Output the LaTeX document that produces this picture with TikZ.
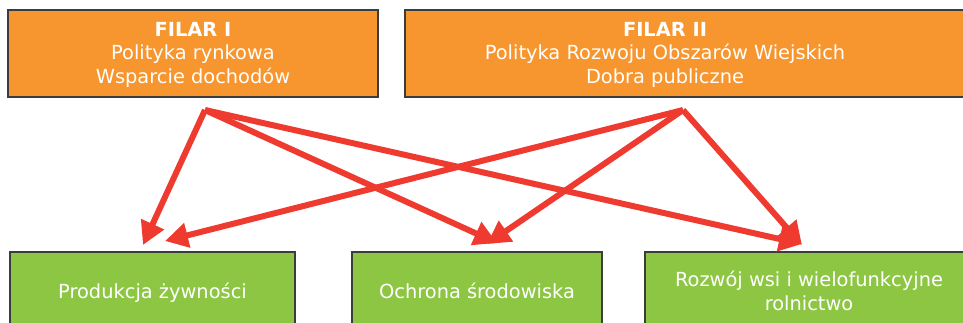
\documentclass[tikz,border=0pt]{standalone}
\usepackage{fontspec}
\setmainfont{DejaVu Sans}
\usetikzlibrary{arrows.meta}
\definecolor{pillar}{HTML}{F7962E}
\definecolor{goal}{HTML}{8DC643}
\definecolor{arrowred}{HTML}{EE3A2F}
\definecolor{edge}{HTML}{3C3C3C}
\tikzset{
  boxshape/.style={draw=edge, line width=1.6pt},
  pillarbox/.style={boxshape, fill=pillar},
  goalbox/.style={boxshape, fill=goal},
  label/.style={text=white, align=center, font=\fontsize{19.4}{23.5}\selectfont, inner sep=0pt},
  link/.style={draw=arrowred, line width=6pt, line join=round, -{Triangle[length=23pt,width=24pt]}}
}
\begin{document}
\begin{tikzpicture}[x=1pt,y=-1pt]
\useasboundingbox (0,0) rectangle (963,322);
% pillar boxes
\draw[pillarbox] (8,10) rectangle (378,97);
\draw[pillarbox] (405,10) rectangle (980,97);
\node[label] (f1) at (193,54.5) {\textbf{FILAR I}\\Polityka rynkowa\\Wsparcie dochodów};
\node[label] (f2) at (665,54.5) {\textbf{FILAR II}\\Polityka Rozwoju Obszarów Wiejskich\\Dobra publiczne};
% goal boxes
\draw[goalbox] (10,252) rectangle (295,335);
\draw[goalbox] (352,252) rectangle (602,335);
\draw[goalbox] (645,252) rectangle (980,335);
\node[label, anchor=base] (g1) at (152.5,298) {Produkcja żywności};
\node[label, anchor=base] (g2) at (477,298) {Ochrona środowiska};
\node[label] (g3) at (809,291) {Rozwój wsi i wielofunkcyjne\\rolnictwo};
% connector points
\coordinate (s1) at (205,110);
\coordinate (s2) at (683,110);
\coordinate (t1) at (143,245);
\coordinate (t2) at (165,241);
\coordinate (t3) at (497,243);
\coordinate (t4) at (487,244);
\coordinate (t5) at (802,244);
\coordinate (t6) at (802,245);
\draw[link] (s1) -- (t1);
\draw[link] (s1) -- (t3);
\draw[link] (s1) -- (t5);
\draw[link] (s2) -- (t2);
\draw[link] (s2) -- (t4);
\draw[link] (s2) -- (t6);
\end{tikzpicture}
\end{document}
